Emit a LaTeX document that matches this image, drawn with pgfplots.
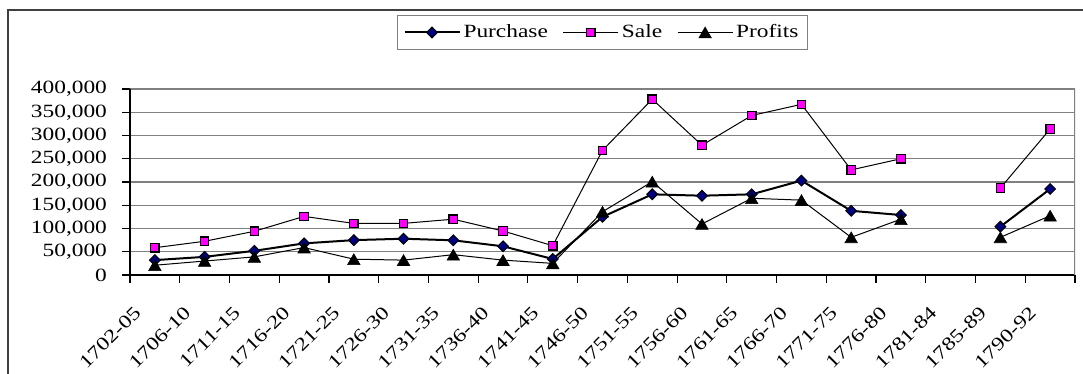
\documentclass[border=0pt]{standalone}
\usepackage{fontspec}
\setmainfont{Liberation Serif}[FakeStretch=1.25]
\usepackage{pgfplots}
\pgfplotsset{compat=1.18}
\definecolor{purchfill}{RGB}{0,0,128}
\definecolor{salefill}{RGB}{255,0,255}
\definecolor{gridgray}{RGB}{128,128,128}
\definecolor{framegray}{RGB}{64,64,64}

% Trade totals by period (index 16 = 1781-84 has no data)
\pgfplotstableread{
idx purchase sale profits
0   32000  58700  21000
1   39000  72500  30000
2   52000  94000  39000
3   68000  126000 59000
4   75000  111000 34000
5   78000  111000 32000
6   74600  120000 43700
7   61700  94600  32000
8   34400  63000  25000
9   125000 268000 136000
10  173500 378000 200700
11  170500 279000 109700
12  173500 343000 165000
13  203000 367000 161000
14  138000 226000 81000
15  129000 250000 120000
16  nan    nan    nan
17  104000 187000 81000
18  185000 314000 127500
}\tradedata

\newcommand{\chartfont}{\fontsize{9.35pt}{11pt}\selectfont}

\begin{document}
\begin{tikzpicture}
\useasboundingbox (0,0) rectangle (541.5pt,187pt);
% chart area frame (top and left edges)
\draw[framegray, line width=1pt] (4pt,-2pt) -- (4pt,182pt) -- (545pt,182pt);
\begin{axis}[
  at={(65pt,49.5pt)}, anchor=south west,
  scale only axis, width=472.5pt, height=93pt,
  xmin=-0.5, xmax=18.5, ymin=0, ymax=400000,
  axis lines*=left,
  axis line style={black, line width=0.6pt, -},
  xtick={-0.5,0.5,...,18.5},
  xticklabels={1702-05,1706-10,1711-15,1716-20,1721-25,1726-30,1731-35,1736-40,1741-45,1746-50,1751-55,1756-60,1761-65,1766-70,1771-75,1776-80,1781-84,1785-89,1790-92,{}},
  ytick={0,50000,...,400000},
  scaled y ticks=false,
  tick align=outside,
  major tick length=4pt,
  tick style={black, line width=0.6pt},
  ymajorgrids,
  grid style={gridgray, line width=0.7pt},
  /pgf/number format/assume math mode=true,
  yticklabel style={font=\chartfont, /pgf/number format/fixed, /pgf/number format/1000 sep={,}, xshift=-4pt},
  xticklabel style={font=\chartfont, anchor=north east, inner sep=0pt, xshift=1.5pt, yshift=-11pt, rotate=45},
  unbounded coords=jump,
  legend columns=3,
  legend style={at={(0.5,1)}, anchor=center, yshift=28.25pt,
    draw=gridgray, line width=0.6pt, font=\chartfont,
    inner xsep=3pt, inner ysep=4.5pt,
    nodes={inner xsep=1.5pt, inner ysep=0pt},
    /tikz/every even column/.append style={column sep=6pt}},
  legend image code/.code={\draw[mark repeat=2,mark phase=2] plot coordinates {(0pt,0pt) (13.75pt,0pt) (27.5pt,0pt)};},
]
\draw[gridgray, line width=0.7pt] (rel axis cs:1,0) -- (rel axis cs:1,1);
\addplot[black, line width=1pt, mark=square*, mark size=1.9pt,
  mark options={rotate=45, fill=purchfill, draw=black, line width=0.5pt}]
  table[x=idx, y=purchase] {\tradedata};
\addlegendentry{Purchase}
\addplot[black, line width=0.5pt, mark=square*, mark size=2.1pt,
  mark options={fill=salefill, draw=black, line width=0.6pt}]
  table[x=idx, y=sale] {\tradedata};
\addlegendentry{Sale}
\addplot[black, line width=0.5pt, mark=triangle*, mark size=3.6pt,
  mark options={fill=black, draw=black, line width=0.3pt, yshift=-0.9pt}]
  table[x=idx, y=profits] {\tradedata};
\addlegendentry{Profits}
\end{axis}
\end{tikzpicture}
\end{document}
